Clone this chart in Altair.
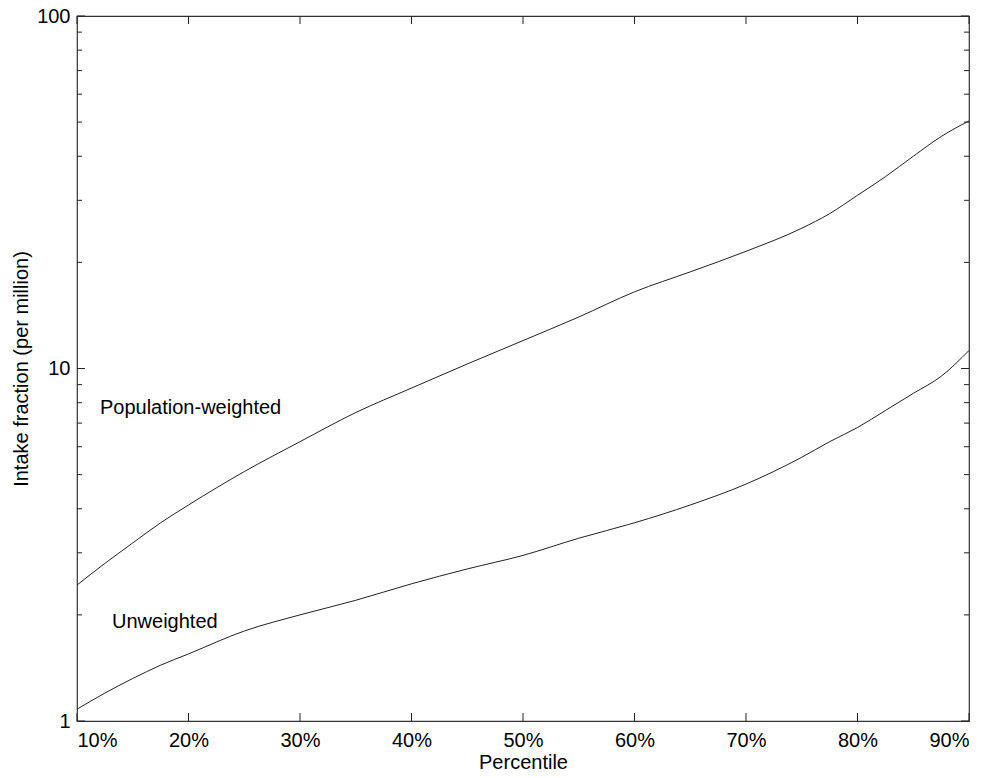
import altair as alt
import pandas as pd

# ---- data ----
percentile = [10, 12.5, 15, 17.5, 20, 25, 30, 35, 40, 45, 50, 55, 60, 65, 70, 75, 77.5, 80,
              82.5, 85, 87.5, 90]
pop_weighted = [2.43, 2.8, 3.2, 3.65, 4.1, 5.1, 6.2, 7.5, 8.8, 10.3, 12.0, 14.0, 16.5, 18.8,
                21.5, 25.0, 27.5, 31.0, 35.0, 40.0, 45.5, 50.4]
unweighted = [1.08, 1.2, 1.32, 1.44, 1.55, 1.8, 2.0, 2.2, 2.45, 2.7, 2.95, 3.3, 3.65, 4.1,
              4.7, 5.6, 6.2, 6.8, 7.6, 8.5, 9.5, 11.25]

x_ticks = [10, 20, 30, 40, 50, 60, 70, 80, 90]
y_major = [1, 10, 100]
y_minor = [2, 3, 4, 5, 6, 7, 8, 9, 20, 30, 40, 50, 60, 70, 80, 90]

label_text = ["Population-weighted", "Unweighted"]
label_x = [12.06, 13.14]
label_y = [7.75, 1.91]

W, H = 892, 705
FONT = "Liberation Sans"
LINE = "#222222"

df = pd.concat([
    pd.DataFrame({"p": percentile, "v": pop_weighted, "s": "Population-weighted"}),
    pd.DataFrame({"p": percentile, "v": unweighted, "s": "Unweighted"}),
])

xs = alt.Scale(domain=[10, 90], nice=False, zero=False)
ys = alt.Scale(type="log", domain=[1, 100], nice=False)

lines = alt.Chart(df).mark_line(color=LINE, strokeWidth=1, interpolate="monotone").encode(
    x=alt.X("p:Q", scale=xs, title="Percentile",
            axis=alt.Axis(values=x_ticks, labelExpr="datum.value + '%'", tickSize=0,
                          labelPadding=9, titlePadding=2, grid=False, domain=False,
                          labelFontSize=20, titleFontSize=20, labelFont=FONT, titleFont=FONT,
                          labelColor="black", titleColor="black", titleFontWeight="normal")),
    y=alt.Y("v:Q", scale=ys, title="Intake fraction (per million)",
            axis=alt.Axis(values=y_major, format="d", tickSize=0, labelPadding=7,
                          titlePadding=5, grid=False, domain=False,
                          labelFontSize=20, titleFontSize=20, labelFont=FONT, titleFont=FONT,
                          labelColor="black", titleColor="black", titleFontWeight="normal")),
    detail="s:N",
)

ymaj = pd.DataFrame({"v": y_major})
ymin = pd.DataFrame({"v": y_minor})
xt = pd.DataFrame({"p": x_ticks})

def yticks(data, length, side):
    if side == "left":
        x0, x1 = 0, length
    else:
        x0, x1 = W - length, W
    return alt.Chart(data).mark_rule(color=LINE, strokeWidth=1).encode(
        y=alt.Y("v:Q", scale=ys), x=alt.value(x0), x2=alt.value(x1))

def xticks(side, length):
    if side == "bottom":
        y0, y1 = H - length, H
    else:
        y0, y1 = 0, length
    return alt.Chart(xt).mark_rule(color=LINE, strokeWidth=1).encode(
        x=alt.X("p:Q", scale=xs), y=alt.value(y0), y2=alt.value(y1))

labels = alt.Chart(pd.DataFrame({"t": label_text, "p": label_x, "v": label_y})).mark_text(
    align="left", baseline="middle", fontSize=20, font=FONT, color="black").encode(
    x=alt.X("p:Q", scale=xs), y=alt.Y("v:Q", scale=ys), text="t:N")

chart = alt.layer(
    lines,
    yticks(ymaj, 8, "left"), yticks(ymaj, 8, "right"),
    yticks(ymin, 5, "left"), yticks(ymin, 5, "right"),
    xticks("bottom", 8), xticks("top", 8),
    labels,
).properties(
    width=W, height=H,
    autosize=alt.AutoSizeParams(type="none"),
    padding={"left": 69, "top": 8, "right": 20, "bottom": 50},
    background="white",
).configure_view(stroke="#333333", strokeWidth=1.2)

chart.save("out.html", embed_options={"renderer": "svg", "actions": False})
